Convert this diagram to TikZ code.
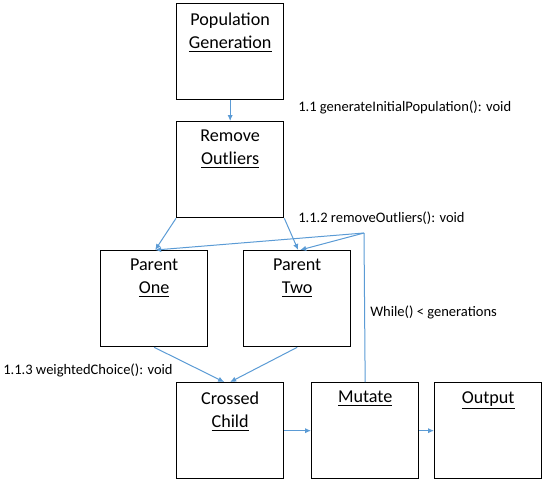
\documentclass[tikz,border=0pt]{standalone}
\usepackage{fontspec}
\setmainfont{Carlito}
\usetikzlibrary{arrows.meta,calc}
\begin{document}
\begin{tikzpicture}[x=0.75pt,y=-0.75pt,
  box/.style={draw=black,line width=1pt,minimum width=107*0.75pt,minimum height=96*0.75pt,inner sep=0pt,anchor=north west},
  btext/.style={anchor=north,align=center,font=\fontsize{13.6}{17.3}\selectfont,inner sep=0pt},
  lbl/.style={anchor=west,font=\fontsize{10.9}{12}\selectfont,inner sep=0pt},
  conn/.style={draw={rgb,255:red,91;green,155;blue,213},line width=0.75pt,-{Latex[length=4.5pt,width=4pt]}},
  plain/.style={draw={rgb,255:red,91;green,155;blue,213},line width=0.75pt}]
\useasboundingbox (0,0) rectangle (544,486);
% boxes
\node[box] (pg) at (176,3) {};
\node[box] (ro) at (176,121) {};
\node[box] (p1) at (100,250) {};
\node[box] (p2) at (243,250) {};
\node[box] (cc) at (176,382) {};
\node[box] (mu) at (311,382) {};
\node[box] (ou) at (434,382) {};
% box texts
\node[btext] (tpg) at ($(pg.north)+(0,10)$) {Population\\\underline{Generation}};
\node[btext] (tro) at ($(ro.north)+(0,9)$) {Remove\\\underline{Outliers}};
\node[btext] (tp1) at ($(p1.north)+(0,9)$) {Parent\\\underline{One}};
\node[btext] (tp2) at ($(p2.north)+(0,9)$) {Parent\\\underline{Two}};
\node[btext] (tcc) at ($(cc.north)+(0,10)$) {Crossed\\\underline{Child}};
\node[btext] (tmu) at ($(mu.north)+(0,9)$) {\underline{Mutate}};
\node[btext] (tou) at ($(ou.north)+(0,9)$) {\underline{Output}};
% labels
\node[lbl] (l1) at (298,107) {1.1 generateInitialPopulation(): void};
\node[lbl] (l2) at (298,218) {1.1.2 removeOutliers(): void};
\node[lbl] (l3) at (370,312) {While() < generations};
\node[lbl] (l4) at (3,370) {1.1.3 weightedChoice(): void};
% connectors
\coordinate (lp) at (364,233);
\draw[conn] (pg.south) -- (ro.north);
\draw[conn] (ro.south west) -- ($(p1.north)+(1,0)$);
\draw[conn] (ro.south east) -- ($(p2.north)+(1,0)$);
\draw[plain] (mu.north) -- (lp);
\draw[conn] (lp) -- ($(p1.north)+(1,0)$);
\draw[conn] (lp) -- ($(p2.north)+(3,0)$);
\draw[conn] (p1.south) -- ($(cc.north)+(-6,0)$);
\draw[conn] (p2.south) -- ($(cc.north)+(0,0)$);
\draw[conn] (cc.east) -- (mu.west);
\draw[conn] (mu.east) -- (ou.west);
\end{tikzpicture}
\end{document}
